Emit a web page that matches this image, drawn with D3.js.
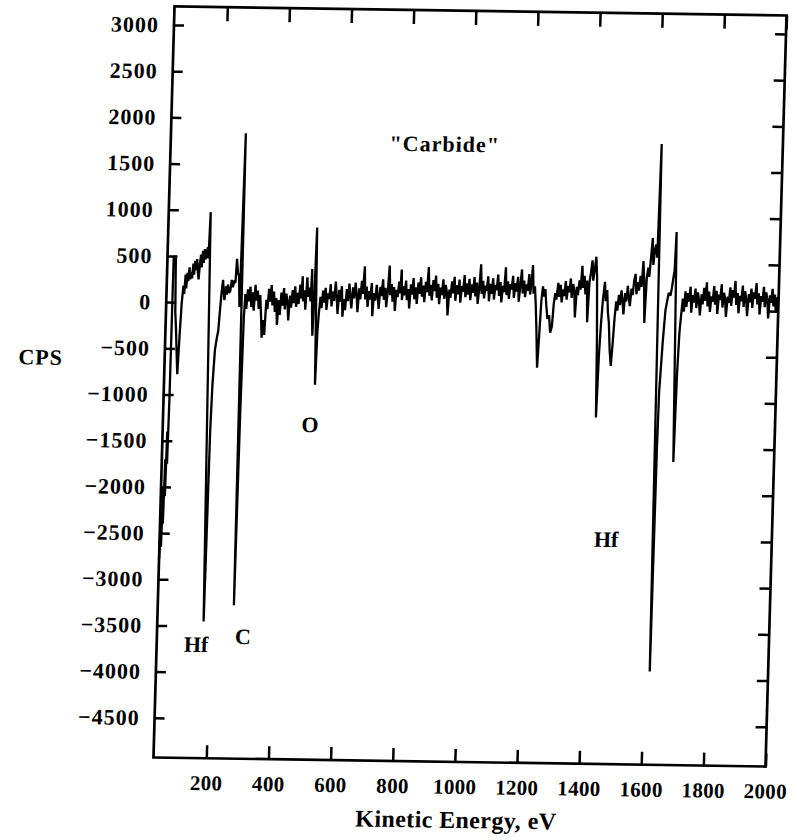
<!DOCTYPE html>
<html>
<head>
<meta charset="utf-8">
<script src="https://cdn.jsdelivr.net/npm/d3@7"></script>
<style>
  html, body { margin: 0; padding: 0; background: #fff; }
  svg { display: block; }
  text { font-family: "Liberation Serif", "Times New Roman", serif; font-weight: bold; fill: #000; }
</style>
</head>
<body>
<svg id="chart" width="797" height="840"></svg>
<script>
// ---- data ----
const xTicks = [200, 400, 600, 800, 1000, 1200, 1400, 1600, 1800, 2000];
const yTicks = [-4500, -4000, -3500, -3000, -2500, -2000, -1500, -1000, -500, 0, 500, 1000, 1500, 2000, 2500, 3000];
const xDomain = [30, 2000];
const yDomain = [-4930, 3200];
const xTitle = "Kinetic Energy, eV";
const yTitle = "CPS";
const sampleName = "\"Carbide\"";
const peakLabels = [
  { text: "Hf", x: 157, y: -3780 },
  { text: "C", x: 307, y: -3690 },
  { text: "O", x: 504, y: -1385 },
  { text: "Hf", x: 1467, y: -2580 }
];
// [kinetic energy eV, CPS]
const spectrum = [
 [30,-2780],[33,-2300],[35,-2650],[37,-2000],[39,-2400],[41,-1700],[43,-2100],[45,-1400],[47,-1750],[49,-1050],[50,490],[57,490],[60,-100],[64,-300],[68,-550],[72,-780],[76,-350],[80,0],
 [84,180],[87,90],[90,300],[93,150],[96,320],[99,230],[102,380],[105,250],[108,330],[111,260],[114,420],[117,300],[120,450],[123,350],[126,470],[129,330],[132,250],[135,420],[138,520],[141,380],[144,560],[147,430],[150,580],[153,470],[156,520],[159,600],[162,480],[165,980],
 [179,-3450],[181,-2500],[183,-1400],[186,-900],[191,-510],[196,-380],[200,-300],[203,-120],[207,100],[211,250],[214,120],[217,30],[221,180],[224,90],[227,200],[231,110],[235,130],[239,250],[243,170],[247,230],[251,220],[254,480],[258,330],[262,290],[266,-40],[271,1840],[275,-3270],[278,-1200],[281,-160],
 [284,100],[288,-60],[292,150],[296,20],[300,180],[304,-40],[308,120],[312,-80],[316,200],[320,30],[324,140],[328,-60],[332,90],[336,-120],[340,-370],[344,-180],[348,-340],[352,40],[356,-60],[360,160],[364,20],[368,200],[372,-20],[376,130],[380,-90],[384,60],[388,-230],[392,40],[396,-120],[400,120],[404,-20],[408,170],[412,-60],[416,110],[420,20],[424,-180],[428,90],[432,-40],[436,150],[440,10],[444,190],[448,-30],[452,120],[456,0],[460,210],[464,60],[467,300],[470,30],[474,150],[478,-60],[482,290],[486,80],[490,180],[494,30],[497,380],[500,-80],[503,-340],[506,100],[509,830],[516,-870],[519,-300],[522,-100],
 [526,80],[530,-40],[534,150],[538,20],[542,180],[546,-60],[550,120],[554,60],[558,220],[562,-20],[566,140],[570,40],[574,250],[578,90],[582,-100],[586,160],[590,30],[594,200],[598,-130],[602,60],[606,-60],[610,170],[614,40],[618,230],[622,80],[626,-40],[630,190],[634,70],[638,240],[642,110],[646,-80],[650,180],[654,60],[658,260],[662,120],[666,420],[670,60],[674,200],[678,-20],[682,150],[686,60],[690,240],[694,-120],[698,130],
 [702,50],[706,220],[710,90],[714,-40],[718,200],[722,100],[726,280],[730,60],[734,190],[738,-20],[742,150],[746,430],[750,110],[754,230],[758,40],[762,200],[766,-60],[770,170],[774,90],[778,260],[782,130],[785,390],[788,60],[792,210],[796,110],[800,270],
 [804,60],[808,180],[812,-30],[816,230],[820,120],[824,300],[828,70],[832,200],[836,20],[840,250],[844,130],[848,310],[852,100],[856,220],[860,40],[864,260],[868,150],[872,420],[876,110],[880,230],[884,60],[888,280],[892,160],[896,330],[900,90],
 [904,240],[908,20],[912,200],[916,120],[920,290],[924,80],[928,230],[932,150],[936,-100],[940,180],[944,90],[948,270],[952,140],[956,320],[960,60],[964,230],[968,130],[972,290],[976,40],[980,220],[984,160],[988,340],[992,100],[996,250],[1000,130],
 [1004,300],[1008,70],[1012,240],[1016,150],[1020,320],[1024,110],[1028,260],[1032,30],[1036,200],[1040,460],[1044,140],[1048,280],[1052,90],[1056,230],[1060,170],[1064,330],[1068,60],[1072,250],[1076,140],[1080,310],[1084,80],[1088,240],[1092,180],[1096,350],[1100,120],
 [1104,270],[1108,50],[1112,230],[1116,160],[1120,430],[1124,130],[1128,280],[1132,90],[1136,250],[1140,190],[1144,340],[1148,100],[1152,260],[1156,170],[1160,330],[1164,60],[1168,240],[1172,410],[1176,150],[1180,290],[1184,110],[1188,250],[1192,180],[1196,360],[1200,140],
 [1204,280],[1207,460],[1211,150],[1215,230],[1219,40],[1223,-200],[1229,-650],[1233,-300],[1237,80],[1241,230],[1245,120],[1249,200],[1253,30],[1258,-120],[1263,-80],[1268,-270],[1273,-200],[1277,40],[1281,160],[1285,90],[1290,270],
 [1294,120],[1298,250],[1302,60],[1306,200],[1310,130],[1314,290],[1318,90],[1322,240],[1326,170],[1330,320],[1334,110],[1338,260],[1342,190],[1346,-100],[1350,230],[1354,140],[1358,300],[1362,200],[1366,460],[1370,220],[1374,350],[1378,150],[1382,300],[1386,-150],[1390,280],[1394,380],[1398,520],[1402,300],[1406,420],[1410,560],[1414,350],[1419,-300],[1423,-1180],[1427,-500],[1431,-150],[1435,100],[1440,290],[1444,80],[1448,200],[1452,-40],[1456,-150],[1461,-450],[1466,-620],[1470,-380],[1474,-100],[1478,80],
 [1482,-20],[1486,150],[1490,40],[1494,200],[1498,90],[1502,-60],[1506,170],[1510,80],[1514,250],[1518,120],[1522,30],[1526,220],[1530,150],[1534,310],[1538,380],[1542,160],[1546,290],[1550,200],[1554,360],[1558,240],[1562,520],[1566,300],[1570,-150],[1574,330],[1578,450],[1582,350],[1586,560],[1590,770],[1594,480],[1598,640],[1602,700],[1606,560],[1610,1790],
 [1619,-3920],[1622,-1520],[1624,-900],[1631,-360],[1637,-10],[1646,180],[1652,150],[1656,240],[1660,350],[1663,420],[1666,840],[1676,-1650],[1680,-700],[1684,-250],[1688,-50],[1692,120],[1696,-20],
 [1700,200],[1704,30],[1708,180],[1712,90],[1716,250],[1720,-30],[1724,160],[1728,80],[1732,230],[1736,20],[1740,190],[1744,110],[1748,-60],[1752,170],[1756,60],[1760,240],[1764,100],[1768,300],[1772,40],[1776,200],[1780,-20],[1784,150],[1788,90],[1792,260],[1796,60],[1800,210],
 [1804,-40],[1808,170],[1812,110],[1816,280],[1820,30],[1824,190],[1828,120],[1832,-70],[1836,150],[1840,80],[1844,250],[1848,50],[1852,220],[1856,140],[1860,320],[1864,60],[1868,190],[1872,-30],[1876,160],[1880,100],[1884,270],[1888,40],[1892,210],[1896,120],[1900,-60],
 [1904,180],[1908,90],[1912,240],[1916,30],[1920,200],[1924,130],[1928,300],[1932,70],[1936,190],[1940,-40],[1944,160],[1948,100],[1952,260],[1956,40],[1960,200],[1964,120],[1968,-80],[1972,170],[1976,90],[1980,240],[1984,50],[1988,180],[1992,-20],[1996,150],[2000,100]
];

// ---- layout ----
const plotL = 164, plotR = 776, plotT = 11, plotB = 762;
const cx = 470, cy = 386.5;

const svg = d3.select("#chart");
// the scanned original is slightly skewed; reproduce that with a group transform
const g = svg.append("g")
  .attr("transform", `translate(${cx},${cy}) matrix(1,0.0148,-0.028,1,0,0) translate(${-cx},${-cy})`);

const x = d3.scaleLinear().domain(xDomain).range([plotL, plotR]);
const y = d3.scaleLinear().domain(yDomain).range([plotB, plotT]);

const fmt = d3.format("d");

// axes
const axLeft = g.append("g").attr("transform", `translate(${plotL},0)`)
  .call(d3.axisLeft(y).tickValues(yTicks).tickSizeInner(-10).tickSizeOuter(0).tickPadding(15).tickFormat(fmt));
const axRight = g.append("g").attr("transform", `translate(${plotR},0)`)
  .call(d3.axisRight(y).tickValues(yTicks).tickSizeInner(-11).tickSizeOuter(0).tickFormat(""));
const axBottom = g.append("g").attr("transform", `translate(0,${plotB})`)
  .call(d3.axisBottom(x).tickValues(xTicks).tickSizeInner(-13).tickSizeOuter(0).tickPadding(17).tickFormat(fmt));
const axTop = g.append("g").attr("transform", `translate(0,${plotT})`)
  .call(d3.axisTop(x).tickValues(xTicks).tickSizeInner(-14).tickSizeOuter(0).tickFormat(""));

[axLeft, axRight, axBottom, axTop].forEach(a => {
  a.select(".domain").remove();
  a.selectAll(".tick line").attr("stroke", "#000").attr("stroke-width", 2.5);
});
axLeft.selectAll(".tick text").attr("font-size", 22).attr("letter-spacing", "1px")
  .attr("font-family", "Liberation Serif, Times New Roman, serif").attr("font-weight", "bold");
axBottom.selectAll(".tick text").attr("font-size", 21).attr("letter-spacing", "0.3px")
  .attr("font-family", "Liberation Serif, Times New Roman, serif").attr("font-weight", "bold");

// frame
g.append("rect")
  .attr("x", plotL).attr("y", plotT).attr("width", plotR - plotL).attr("height", plotB - plotT)
  .attr("fill", "none").attr("stroke", "#000").attr("stroke-width", 2.7);

// spectrum
const line = d3.line().x(d => x(d[0])).y(d => y(d[1]));
g.append("path")
  .datum(spectrum)
  .attr("d", line)
  .attr("fill", "none")
  .attr("stroke", "#000")
  .attr("stroke-width", 2.3)
  .attr("stroke-linejoin", "miter")
  .attr("stroke-miterlimit", 2);

// titles
g.append("text").attr("x", 468).attr("y", 828).attr("text-anchor", "middle")
  .attr("font-size", 24).attr("letter-spacing", "0.4px").text(xTitle);
g.append("text").attr("x", 40).attr("y", 371).attr("text-anchor", "middle")
  .attr("font-size", 22).attr("letter-spacing", "1px").text(yTitle);
g.append("text").attr("x", 438).attr("y", 152).attr("text-anchor", "middle")
  .attr("font-size", 22).attr("letter-spacing", "1px").text(sampleName);

// peak labels
g.selectAll("text.peak").data(peakLabels).enter().append("text")
  .attr("class", "peak")
  .attr("x", d => x(d.x)).attr("y", d => y(d.y))
  .attr("text-anchor", "middle").attr("font-size", 22)
  .text(d => d.text);
</script>
</body>
</html>
